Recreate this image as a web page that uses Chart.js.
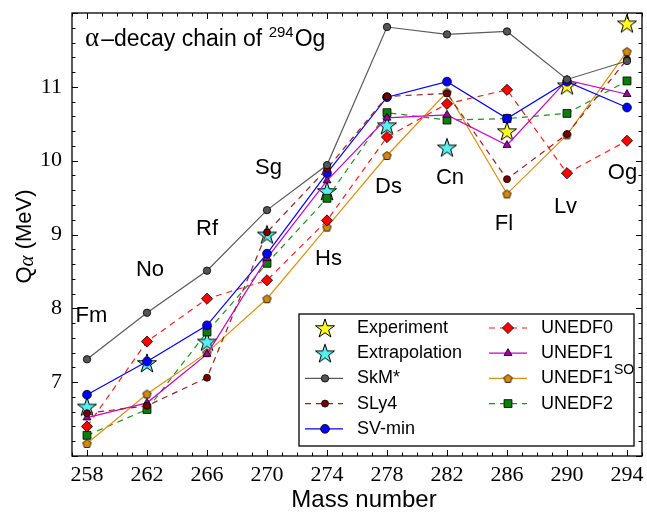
<!DOCTYPE html>
<html>
<head>
<meta charset="utf-8">
<script src="https://cdn.jsdelivr.net/npm/chart.js"></script>
<style>
html,body{margin:0;padding:0;background:#fff;}
#wrap{width:647px;height:514px;}
</style>
</head>
<body>
<div id="wrap"><canvas id="c" width="647" height="514"></canvas></div>
<script>
// ---------------- data ----------------
const massNumbers   = [258, 262, 266, 270, 274, 278, 282, 286, 290, 294];
const elementNames  = ['Fm', 'No', 'Rf', 'Sg', 'Hs', 'Ds', 'Cn', 'Fl', 'Lv', 'Og'];
const experiment    = [null, null, null, null, null, null, null, 10.40, 11.02, 11.86];
const extrapolation = [6.67, 7.26, 7.55, 9.00, 9.59, 10.48, 10.18, null, null, null];
const skmStar       = [7.31, 7.94, 8.51, 9.33, 9.94, 11.81, 11.71, 11.75, 11.10, 11.35];
const sly4          = [6.58, 6.68, 7.06, 9.03, 9.89, 10.87, 10.91, 9.75, 10.36, 11.37];
const svMin         = [6.83, 7.28, 7.77, 8.74, 9.83, 10.86, 11.07, 10.57, 11.07, 10.72];
const unedf0        = [6.40, 7.55, 8.13, 8.38, 9.19, 10.32, 10.77, 10.96, 9.83, 10.27];
const unedf1        = [6.52, 6.72, 7.38, 8.68, 9.73, 10.58, 10.62, 10.21, 11.09, 10.90];
const unedf1so      = [6.17, 6.84, 7.40, 8.13, 9.10, 10.07, 10.93, 9.55, 10.35, 11.48];
const unedf2        = [6.28, 6.63, 7.68, 8.61, 9.49, 10.65, 10.55, 10.57, 10.64, 11.08];
const xTickValues   = [258, 262, 266, 270, 274, 278, 282, 286, 290, 294];
const yTickValues   = [7, 8, 9, 10, 11];

// ---------------- layout / annotation anchors (in axis units) ----------------
const elementLabelMass = [258.3, 262.2, 266.0, 270.1, 274.1, 278.1, 282.2, 285.8, 289.9, 293.7];
const elementLabelQ    = [7.82, 8.44, 9.00, 9.82, 8.59, 9.56, 9.68, 9.06, 9.29, 9.75];

// ---------------- marker images ----------------
function makeStar(fill, R) {
  const s = Math.ceil(2 * R + 4);
  const c = document.createElement('canvas');
  c.width = s; c.height = s;
  const g = c.getContext('2d');
  const cx = s / 2, cy = s / 2 + R * 0.09;
  const r = R * 0.382;
  g.beginPath();
  for (let i = 0; i < 10; i++) {
    const ang = -Math.PI / 2 + i * Math.PI / 5;
    const rr = i % 2 ? r : R;
    const px = cx + rr * Math.cos(ang), py = cy + rr * Math.sin(ang);
    if (i === 0) g.moveTo(px, py); else g.lineTo(px, py);
  }
  g.closePath();
  g.fillStyle = fill; g.fill();
  g.lineWidth = 1; g.strokeStyle = '#000'; g.stroke();
  return c;
}
function makePentagon(fill, R) {
  const s = Math.ceil(2 * R + 4);
  const c = document.createElement('canvas');
  c.width = s; c.height = s;
  const g = c.getContext('2d');
  const cx = s / 2, cy = s / 2 + R * 0.1;
  g.beginPath();
  for (let i = 0; i < 5; i++) {
    const ang = -Math.PI / 2 + i * 2 * Math.PI / 5;
    const px = cx + R * Math.cos(ang), py = cy + R * Math.sin(ang);
    if (i === 0) g.moveTo(px, py); else g.lineTo(px, py);
  }
  g.closePath();
  g.fillStyle = fill; g.fill();
  g.lineWidth = 0.8; g.strokeStyle = '#000'; g.stroke();
  return c;
}
const yellowStar = makeStar('#ffff22', 10);
const cyanStar = makeStar('#55f0f0', 10);
const orangePent = makePentagon('#d4880c', 4.4);

function pts(arr) {
  const out = [];
  massNumbers.forEach((m, i) => { if (arr[i] !== null) out.push({x: m, y: arr[i]}); });
  return out;
}

function series(label, arr, line, fill, style, radius, dash) {
  return {
    label, data: pts(arr),
    borderColor: line, borderWidth: 1.2, borderDash: dash || [],
    pointStyle: style, pointRadius: radius,
    pointBackgroundColor: fill, pointBorderColor: '#000', pointBorderWidth: 0.8,
    showLine: true, tension: 0, fill: false
  };
}

const datasets = [
  series('SkM*', skmStar, '#5a5a5a', '#555555', 'circle', 3.7),
  series('SLy4', sly4, '#9a1e1e', '#7a0000', 'circle', 3.5, [6, 5]),
  series('SV-min', svMin, '#0000ff', '#0000ff', 'circle', 4.4),
  series('UNEDF0', unedf0, '#ff1a1a', '#ff0000', 'rectRot', 5.6, [6, 5]),
  series('UNEDF1', unedf1, '#cc00cc', '#a000a0', 'triangle', 4.6),
  series('UNEDF1SO', unedf1so, '#e0900f', '#d4880c', orangePent, 4.4),
  series('UNEDF2', unedf2, '#1f8f1f', '#0a7d0a', 'rect', 5.6, [6, 5]),
  {label: 'Experiment', data: pts(experiment), showLine: false, pointStyle: yellowStar, pointRadius: 10,
   pointBackgroundColor: '#ffff22', pointBorderColor: '#000', pointBorderWidth: 1, borderColor: '#000'},
  {label: 'Extrapolation', data: pts(extrapolation), showLine: false, pointStyle: cyanStar, pointRadius: 10,
   pointBackgroundColor: '#55f0f0', pointBorderColor: '#000', pointBorderWidth: 1, borderColor: '#000'}
];

const SANS = "'Liberation Sans', Arial, sans-serif";
const SERIF = "'Liberation Serif', 'Times New Roman', serif";

function drawMarker(ctx, ds, x, y) {
  ctx.save();
  ctx.fillStyle = ds.pointBackgroundColor;
  ctx.strokeStyle = ds.pointBorderColor;
  ctx.lineWidth = ds.pointBorderWidth;
  if (Chart.helpers && Chart.helpers.drawPoint) {
    Chart.helpers.drawPoint(ctx, {pointStyle: ds.pointStyle, rotation: 0, radius: ds.pointRadius, borderWidth: ds.pointBorderWidth}, x, y);
  } else if (ds.pointStyle instanceof HTMLCanvasElement) {
    ctx.drawImage(ds.pointStyle, x - ds.pointStyle.width / 2, y - ds.pointStyle.height / 2);
  } else {
    ctx.beginPath(); ctx.arc(x, y, ds.pointRadius, 0, Math.PI * 2); ctx.fill(); ctx.stroke();
  }
  ctx.restore();
}

function zeroPad(s) { s.paddingTop = 0; s.paddingBottom = 0; s.paddingLeft = 0; s.paddingRight = 0; }

const decorPlugin = {
  id: 'decor',
  afterDraw(chart) {
    const ctx = chart.ctx, a = chart.chartArea, xs = chart.scales.x, ys = chart.scales.y;
    ctx.save();
    // frame
    ctx.strokeStyle = '#000'; ctx.lineWidth = 1.3;
    ctx.strokeRect(a.left, a.top, a.right - a.left, a.bottom - a.top);
    // ticks (inward, all four sides)
    ctx.lineWidth = 1;
    ctx.beginPath();
    for (let v = Math.ceil(xs.min); v <= xs.max; v++) {
      const p = Math.round(xs.getPixelForValue(v)) + 0.5;
      const len = xTickValues.includes(v) ? 6 : 3.5;
      ctx.moveTo(p, a.bottom); ctx.lineTo(p, a.bottom - len);
      ctx.moveTo(p, a.top); ctx.lineTo(p, a.top + len);
    }
    for (let k = Math.round(ys.min * 5); k <= Math.round(ys.max * 5); k++) {
      const v = k / 5;
      const p = Math.round(ys.getPixelForValue(v)) + 0.5;
      const len = k % 5 === 0 ? 6 : 3.5;
      ctx.moveTo(a.left, p); ctx.lineTo(a.left + len, p);
      ctx.moveTo(a.right, p); ctx.lineTo(a.right - len, p);
    }
    ctx.stroke();

    // element labels
    ctx.fillStyle = '#000';
    ctx.font = '22px ' + SANS;
    ctx.textAlign = 'center'; ctx.textBaseline = 'alphabetic';
    elementNames.forEach((n, i) => {
      ctx.fillText(n, xs.getPixelForValue(elementLabelMass[i]), ys.getPixelForValue(elementLabelQ[i]));
    });

    // title
    ctx.textAlign = 'left';
    let tx = a.left + 13; const ty = a.top + 33;
    ctx.font = '27px ' + SERIF; ctx.fillText('α', tx, ty); tx += ctx.measureText('α').width + 2;
    ctx.font = '23px ' + SANS; const t1 = '–decay chain of '; ctx.fillText(t1, tx, ty); tx += ctx.measureText(t1).width;
    ctx.font = '15px ' + SANS; ctx.fillText('294', tx, ty - 9); tx += ctx.measureText('294').width + 1;
    ctx.font = '23px ' + SANS; ctx.fillText('Og', tx, ty);

    // x axis title
    ctx.font = '24px ' + SANS; ctx.textAlign = 'center';
    ctx.fillText('Mass number', (a.left + a.right) / 2 + 7, chart.height - 7);

    // y axis title (rotated)
    ctx.save();
    ctx.translate(31, (a.top + a.bottom) / 2 + 2);
    ctx.rotate(-Math.PI / 2);
    ctx.textAlign = 'left';
    ctx.font = '22px ' + SANS; const wQ = ctx.measureText('Q').width;
    ctx.font = 'italic 21px ' + SERIF; const wA = ctx.measureText('α').width;
    ctx.font = '22px ' + SANS; const wR = ctx.measureText(' (MeV)').width;
    let yx = -(wQ + wA + wR) / 2;
    ctx.font = '22px ' + SANS; ctx.fillText('Q', yx, 0); yx += wQ;
    ctx.font = 'italic 21px ' + SERIF; ctx.fillText('α', yx, 2); yx += wA;
    ctx.font = '22px ' + SANS; ctx.fillText(' (MeV)', yx, 0);
    ctx.restore();

    // legend
    const bl = a.right - 343, bt = a.bottom - 142, bw = 335, bh = 132;
    ctx.fillStyle = '#fff';
    ctx.fillRect(bl, bt, bw, bh);
    ctx.strokeStyle = '#000'; ctx.lineWidth = 1.3;
    ctx.strokeRect(bl, bt, bw, bh);
    const byLabel = {};
    chart.data.datasets.forEach(d => byLabel[d.label] = d);
    const cols = [
      {items: ['Experiment', 'Extrapolation', 'SkM*', 'SLy4', 'SV-min'], x0: bl + 6, x1: bl + 44, mx: bl + 26, tx: bl + 58},
      {items: ['UNEDF0', 'UNEDF1', 'UNEDF1SO', 'UNEDF2'], x0: bl + 190, x1: bl + 228, mx: bl + 209, tx: bl + 242}
    ];
    cols.forEach(col => {
      col.items.forEach((name, r) => {
        const ds = byLabel[name];
        const ry = bt + 14 + r * 25.2;
        if (ds.showLine) {
          ctx.save();
          ctx.strokeStyle = ds.borderColor; ctx.lineWidth = ds.borderWidth;
          ctx.setLineDash(ds.borderDash || []);
          ctx.beginPath(); ctx.moveTo(col.x0, ry); ctx.lineTo(col.x1, ry); ctx.stroke();
          ctx.restore();
        }
        drawMarker(ctx, ds, col.mx, ry);
        ctx.fillStyle = '#000'; ctx.textAlign = 'left'; ctx.textBaseline = 'middle';
        ctx.font = '18px ' + SANS;
        if (name === 'UNEDF1SO') {
          ctx.fillText('UNEDF1', col.tx, ry);
          const w = ctx.measureText('UNEDF1').width;
          ctx.font = '14px ' + SANS;
          ctx.fillText('SO', col.tx + w + 1, ry - 8);
        } else {
          ctx.fillText(name, col.tx, ry);
        }
      });
    });
    ctx.restore();
  }
};

new Chart(document.getElementById('c').getContext('2d'), {
  type: 'line',
  data: {datasets},
  options: {
    responsive: false,
    animation: false,
    devicePixelRatio: 1,
    layout: {autoPadding: false, padding: {top: 13, right: 5, left: 0, bottom: 0}},
    plugins: {legend: {display: false}, tooltip: {enabled: false}, title: {display: false}},
    elements: {line: {tension: 0}},
    scales: {
      x: {
        type: 'linear', min: 257, max: 295,
        afterBuildTicks: s => { s.ticks = xTickValues.map(v => ({value: v})); },
        afterFit: s => { s.height = 58; zeroPad(s); },
        grid: {display: false, drawTicks: false},
        border: {display: false},
        ticks: {font: {family: SERIF, size: 22}, color: '#000', padding: 6, maxRotation: 0, autoSkip: false}
      },
      y: {
        type: 'linear', min: 6, max: 12,
        afterBuildTicks: s => { s.ticks = yTickValues.map(v => ({value: v})); },
        afterFit: s => { s.width = 72; zeroPad(s); },
        grid: {display: false, drawTicks: false},
        border: {display: false},
        ticks: {font: {family: SERIF, size: 22}, color: '#000', padding: 10}
      }
    }
  },
  plugins: [decorPlugin]
});
</script>
</body>
</html>
